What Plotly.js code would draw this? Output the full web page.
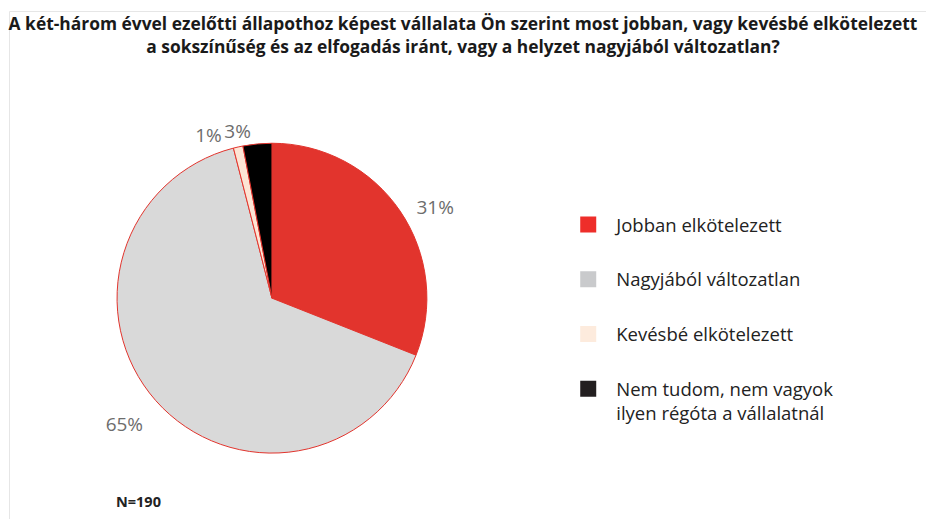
<!DOCTYPE html>
<html>
<head>
<meta charset="utf-8">
<script src="https://cdn.plot.ly/plotly-3.0.1.min.js"></script>
<style>html,body{margin:0;padding:0;background:#fff;}#chart{width:926px;height:519px;}</style>
</head>
<body>
<div id="chart"></div>
<script>
var categories = ["Jobban elkötelezett", "Nagyjából változatlan", "Kevésbé elkötelezett", "Nem tudom, nem vagyok<br>ilyen régóta a vállalatnál"];
var values = [31, 65, 1, 3];
var sliceColors = ["#E2342D", "#D9D9D9", "#FDE5D5", "#000000"];
var legendColors = ["#EE2E2A", "#C9CACC", "#FDEBDD", "#231F20"];
var titleText = "A két-három évvel ezelőtti állapothoz képest vállalata Ön szerint most jobban, vagy kevésbé elkötelezett<br>a sokszínűség és az elfogadás iránt, vagy a helyzet nagyjából változatlan?";
var noteText = "N=190";

var FONT = "Open Sans, sans-serif";
var pieDomain = {x: [0.1263, 0.4611], y: [0.127, 0.724]};
var labelFont = {family: FONT, size: 19, color: "#6d6d6d"};
var NB = "\u00a0";

// label templates (spacing nudges only); the last slice's label is drawn by the overlay trace
var mainText = [NB + NB + "%{value}%", NB + "<br>%{value}%", "%{value}%" + NB + NB, ""];
var overlayText = ["", "", "", "%{value}%"];

var traces = [{
  type: "pie",
  labels: categories,
  values: values,
  sort: false,
  direction: "clockwise",
  rotation: 0,
  marker: {colors: sliceColors, line: {color: "#E2342D", width: 1}},
  texttemplate: mainText,
  textposition: "outside",
  outsidetextfont: labelFont,
  showlegend: false,
  domain: pieDomain,
  hoverinfo: "label+percent"
}, {
  type: "pie",
  labels: categories,
  values: values,
  sort: false,
  direction: "clockwise",
  rotation: 0,
  marker: {colors: values.map(function () { return "rgba(0,0,0,0)"; }), line: {width: 0}},
  texttemplate: overlayText,
  textposition: "outside",
  outsidetextfont: labelFont,
  showlegend: false,
  domain: pieDomain,
  hoverinfo: "skip"
}];
categories.forEach(function (c, i) {
  traces.push({
    type: "scatter", mode: "markers", x: [null], y: [null],
    name: c, legendgroup: "g" + i,
    marker: {symbol: "square", size: 16, color: legendColors[i]},
    hoverinfo: "skip"
  });
});

var layout = {
  width: 926, height: 519,
  margin: {l: 0, r: 0, t: 0, b: 0},
  paper_bgcolor: "#ffffff", plot_bgcolor: "#ffffff",
  font: {family: FONT, color: "#222"},
  title: {text: "<b>" + titleText + "</b>", x: 0.5, xanchor: "center", xref: "paper",
          y: 1 - 30/519, yanchor: "middle", yref: "container",
          font: {family: FONT, size: 17.4, color: "#1a1a1a"}},
  xaxis: {visible: false}, yaxis: {visible: false},
  showlegend: true,
  legend: {x: 0.605, xanchor: "left", y: 1 - 206/519, yanchor: "top", valign: "top",
           itemwidth: 46, tracegroupgap: 27.7, traceorder: "grouped",
           font: {family: FONT, size: 18.5, color: "#222"}, bgcolor: "rgba(0,0,0,0)"},
  shapes: [
    {type: "line", xref: "paper", yref: "paper", x0: 9.5/926, x1: 1, y0: 1 - 11.5/519, y1: 1 - 11.5/519, line: {color: "#E6E6E6", width: 1}},
    {type: "line", xref: "paper", yref: "paper", x0: 9.5/926, x1: 9.5/926, y0: 0, y1: 1 - 11.5/519, line: {color: "#E6E6E6", width: 1}}
  ],
  annotations: [{text: "<b>" + noteText + "</b>", xref: "paper", yref: "paper", x: 114/926, y: 1 - 501/519,
                 xanchor: "left", yanchor: "middle", showarrow: false,
                 font: {family: FONT, size: 14.5, color: "#222"}}]
};
Plotly.newPlot("chart", traces, layout, {displayModeBar: false, staticPlot: true});
</script>
</body>
</html>
